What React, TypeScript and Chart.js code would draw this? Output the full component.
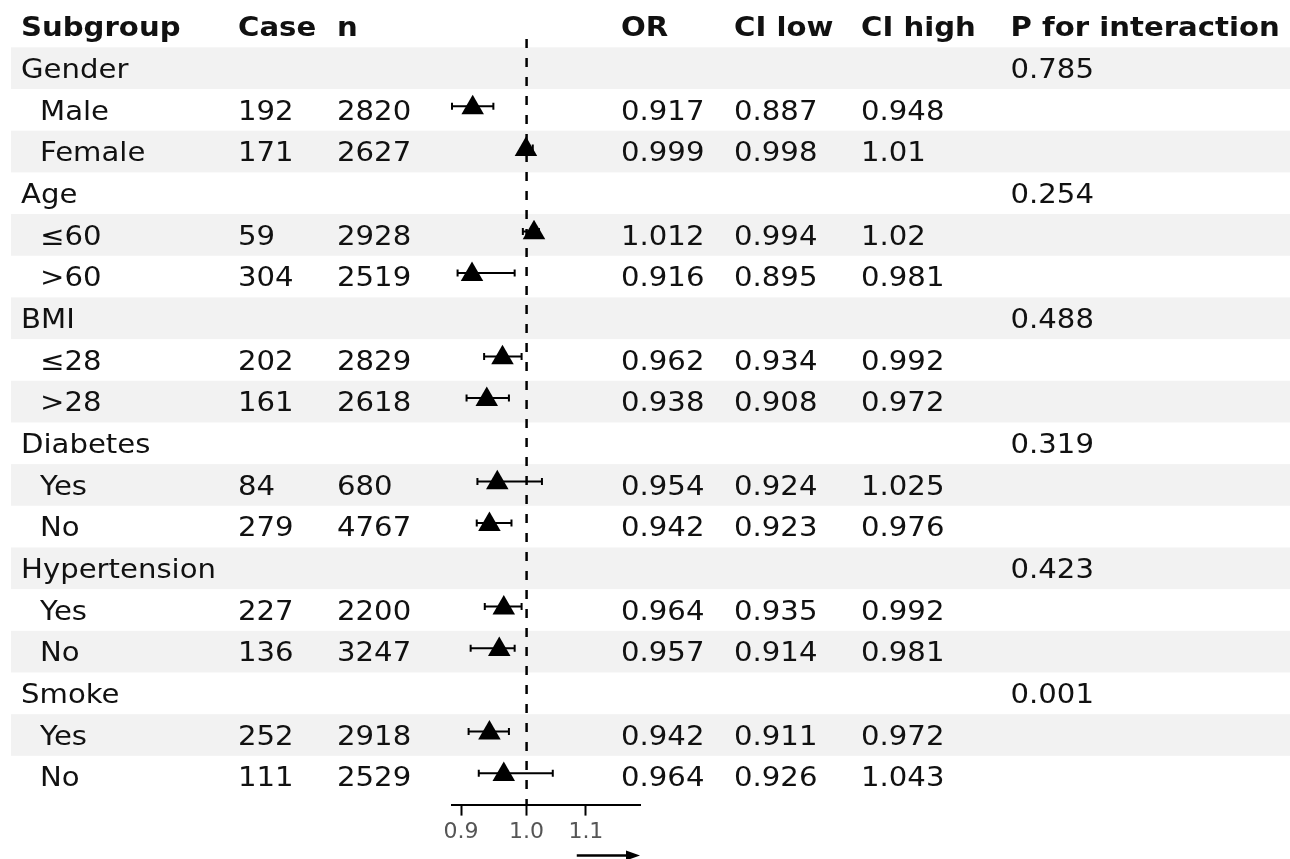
import React, { useEffect, useRef } from "react";
import { Chart, registerables } from "chart.js";

Chart.register(...registerables);

// ---- data ----
const subgroups = [
  "Gender", "Male", "Female",
  "Age", "≤60", ">60",
  "BMI", "≤28", ">28",
  "Diabetes", "Yes", "No",
  "Hypertension", "Yes", "No",
  "Smoke", "Yes", "No",
];
const indentLevel = [0, 1, 1, 0, 1, 1, 0, 1, 1, 0, 1, 1, 0, 1, 1, 0, 1, 1];
const cases = ["", "192", "171", "", "59", "304", "", "202", "161", "", "84", "279", "", "227", "136", "", "252", "111"];
const ns = ["", "2820", "2627", "", "2928", "2519", "", "2829", "2618", "", "680", "4767", "", "2200", "3247", "", "2918", "2529"];
const orVals = [null, 0.917, 0.999, null, 1.012, 0.916, null, 0.962, 0.938, null, 0.954, 0.942, null, 0.964, 0.957, null, 0.942, 0.964];
const ciLow = [null, 0.887, 0.998, null, 0.994, 0.895, null, 0.934, 0.908, null, 0.924, 0.923, null, 0.935, 0.914, null, 0.911, 0.926];
const ciHigh = [null, 0.948, 1.01, null, 1.02, 0.981, null, 0.992, 0.972, null, 1.025, 0.976, null, 0.992, 0.981, null, 0.972, 1.043];
const pInteraction = ["0.785", "", "", "0.254", "", "", "0.488", "", "", "0.319", "", "", "0.423", "", "", "0.001", "", ""];
const headers = ["Subgroup", "Case", "n", "OR", "CI low", "CI high", "P for interaction"];
const xTicks = [0.9, 1.0, 1.1];
const xMin = 0.887;
const xMax = 1.2;
const refLine = 1.0;
const arrowStart = 1.084;

// ---- styling ----
const FONT = "'DejaVu Sans', sans-serif";
const FS = 26.5;
const SX = 1.1; // horizontal text stretch
const colX = [21, 238, 337, 621, 734, 861, 1010.5];
const subIndent = 19;

export default function App() {
  const ref = useRef<HTMLCanvasElement>(null);

  useEffect(() => {
    const canvas = ref.current!;
    const rowCount = subgroups.length;
    const pointData: { x: number; y: number }[] = [];
    orVals.forEach((v, i) => {
      if (v != null) pointData.push({ x: v, y: i - 0.05 });
    });

    const drawText = (ctx: CanvasRenderingContext2D, t: string, x: number, y: number) => {
      ctx.save();
      ctx.translate(x, y);
      ctx.scale(SX, 1);
      ctx.fillText(t, 0, 0);
      ctx.restore();
    };

    const tablePlugin = {
      id: "forestTable",
      beforeDraw(chart: any) {
        const ctx = chart.ctx;
        const y = chart.scales.y;
        ctx.save();
        ctx.fillStyle = "#f2f2f2";
        for (let i = 0; i < rowCount; i += 2) {
          const t = y.getPixelForValue(i - 0.5);
          const b = y.getPixelForValue(i + 0.5);
          ctx.fillRect(11, t, chart.width - 11, b - t);
        }
        ctx.restore();
      },
      afterDatasetsDraw(chart: any) {
        const ctx = chart.ctx;
        const x = chart.scales.x;
        const y = chart.scales.y;
        ctx.save();
        ctx.strokeStyle = "#000";
        ctx.lineWidth = 2;
        for (let i = 0; i < rowCount; i++) {
          const lo = ciLow[i];
          const hi = ciHigh[i];
          if (lo == null || hi == null) continue;
          const yy = y.getPixelForValue(i) - 3.5;
          const x1 = x.getPixelForValue(lo);
          const x2 = x.getPixelForValue(hi);
          ctx.beginPath();
          ctx.moveTo(x1, yy);
          ctx.lineTo(x2, yy);
          ctx.moveTo(x1, yy - 3.5);
          ctx.lineTo(x1, yy + 3.5);
          ctx.moveTo(x2, yy - 3.5);
          ctx.lineTo(x2, yy + 3.5);
          ctx.stroke();
        }
        ctx.restore();
      },
      afterDraw(chart: any) {
        const ctx = chart.ctx;
        const x = chart.scales.x;
        const y = chart.scales.y;
        const capHalf = FS * 0.729 / 2;
        ctx.save();
        ctx.fillStyle = "#111";
        ctx.textAlign = "left";
        ctx.textBaseline = "alphabetic";
        // header
        ctx.font = `bold ${FS}px ${FONT}`;
        const hy = y.getPixelForValue(-1) + capHalf;
        headers.forEach((h, c) => drawText(ctx, h, colX[c], hy));
        // rows
        ctx.font = `${FS}px ${FONT}`;
        for (let i = 0; i < rowCount; i++) {
          const by = y.getPixelForValue(i) + capHalf;
          drawText(ctx, subgroups[i], colX[0] + indentLevel[i] * subIndent, by);
          const cells = [
            cases[i],
            ns[i],
            orVals[i] == null ? "" : String(orVals[i]),
            ciLow[i] == null ? "" : String(ciLow[i]),
            ciHigh[i] == null ? "" : String(ciHigh[i]),
            pInteraction[i],
          ];
          cells.forEach((t, c) => {
            if (t) drawText(ctx, t, colX[c + 1], by);
          });
        }
        // arrow below axis
        const ay = 855.5;
        const ax1 = x.getPixelForValue(arrowStart);
        const ax2 = x.getPixelForValue(xMax);
        ctx.strokeStyle = "#000";
        ctx.fillStyle = "#000";
        ctx.lineWidth = 2.5;
        ctx.beginPath();
        ctx.moveTo(ax1, ay);
        ctx.lineTo(ax2 - 10, ay);
        ctx.stroke();
        ctx.beginPath();
        ctx.moveTo(ax2, ay);
        ctx.lineTo(ax2 - 14, ay - 5);
        ctx.lineTo(ax2 - 14, ay + 5);
        ctx.closePath();
        ctx.fill();
        ctx.restore();
      },
    };

    const chart = new Chart(canvas, {
      type: "scatter",
      data: {
        datasets: [
          {
            type: "scatter",
            data: pointData,
            pointStyle: "triangle",
            pointRadius: 13,
            pointHoverRadius: 13,
            backgroundColor: "#000",
            borderColor: "#000",
            borderWidth: 0,
            order: 0,
          } as any,
          {
            type: "line",
            data: [
              { x: refLine, y: -0.7 },
              { x: refLine, y: 17.67 },
            ],
            borderColor: "#000",
            borderWidth: 2.5,
            borderDash: [9, 10],
            pointRadius: 0,
            showLine: true,
            fill: false,
            order: 2,
          } as any,
        ],
      },
      options: {
        responsive: false,
        animation: false,
        devicePixelRatio: 1,
        layout: { padding: { left: 452, right: 650, top: 39, bottom: 11 } },
        plugins: { legend: { display: false }, tooltip: { enabled: false } },
        scales: {
          x: {
            type: "logarithmic",
            position: "bottom",
            min: xMin,
            max: xMax,
            bounds: "data",
            afterBuildTicks: (scale: any) => {
              scale.ticks = xTicks.map((v) => ({ value: v }));
            },
            grid: {
              display: true,
              drawOnChartArea: false,
              drawTicks: true,
              tickLength: 11,
              tickColor: "#000",
              tickWidth: 2,
            },
            border: { display: true, color: "#000", width: 2 },
            ticks: {
              autoSkip: false,
              maxRotation: 0,
              padding: 3,
              color: "#555",
              font: { family: FONT, size: 22 },
              callback: (v: any) => Number(v).toFixed(1),
            },
          },
          y: {
            type: "linear",
            display: false,
            reverse: true,
            min: -0.7,
            max: 17.67,
          },
        },
      },
      plugins: [tablePlugin],
    });
    return () => chart.destroy();
  }, []);

  return (
    <canvas
      ref={ref}
      width={1290}
      height={859}
      style={{ position: "fixed", left: 0, top: 0, width: 1290, height: 859 }}
    />
  );
}
